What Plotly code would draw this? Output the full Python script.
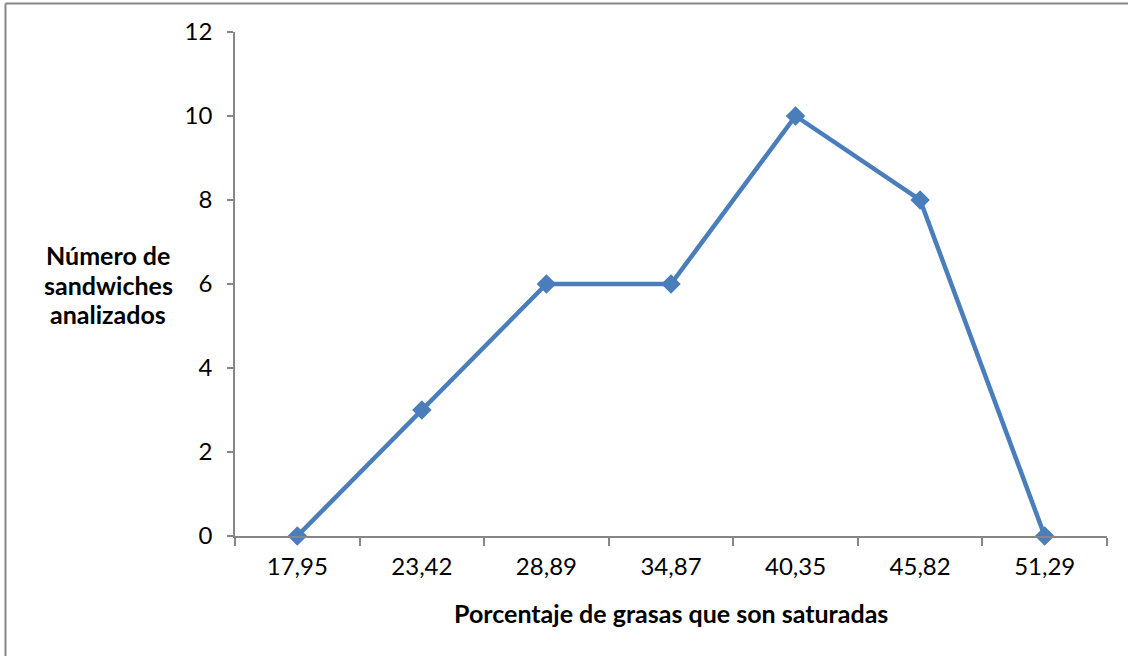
import plotly.graph_objects as go

categories = ["17,95", "23,42", "28,89", "34,87", "40,35", "45,82", "51,29"]
values = [0, 3, 6, 6, 10, 8, 0]
y_ticks = [0, 2, 4, 6, 8, 10, 12]
x_title = "Porcentaje de grasas que son saturadas"
y_title_lines = ["Número de", "sandwiches", "analizados"]

W, H = 1128, 656
L, R, T, B = 235, 21, 32, 120
pw, ph = W - L - R, H - T - B

def px_x(px):
    return (px - L) / pw

def px_y(py):
    return (H - B - py) / ph

FONT = "Lato, Open Sans, sans-serif"
AXIS_COLOR = "#868686"
LINE_COLOR = "#4A7EBB"

fig = go.Figure()
fig.add_trace(go.Scatter(
    x=categories, y=values, mode="lines+markers",
    line=dict(color=LINE_COLOR, width=4.5),
    marker=dict(symbol="diamond", size=15, color=LINE_COLOR),
    showlegend=False, cliponaxis=False,
))

annotations = [
    dict(text=f"<b>{x_title}</b>", xref="paper", yref="paper",
         x=px_x(671), y=px_y(613), xanchor="center", yanchor="middle",
         showarrow=False, font=dict(family=FONT, size=25)),
]
for i, line in enumerate(y_title_lines):
    annotations.append(dict(
        text=f"<b>{line}</b>", xref="paper", yref="paper",
        x=px_x(108), y=px_y(255 + 29.5 * i), xanchor="center", yanchor="middle",
        showarrow=False, font=dict(family=FONT, size=25)))

border = dict(color="#868686", width=2)
shapes = [
    dict(type="line", xref="paper", yref="paper",
         x0=px_x(5.5), x1=px_x(5.5), y0=px_y(670), y1=px_y(3.5), line=border),
    dict(type="line", xref="paper", yref="paper",
         x0=px_x(5.5), x1=px_x(1128), y0=px_y(3.5), y1=px_y(3.5), line=border),
]

fig.update_layout(
    width=W, height=H,
    margin=dict(l=L, r=R, t=T, b=B),
    paper_bgcolor="white", plot_bgcolor="white",
    font=dict(family=FONT, size=24, color="black"),
    xaxis=dict(
        type="category", range=[-0.5, len(categories) - 0.5],
        tickson="boundaries", ticks="outside", ticklen=8, tickcolor=AXIS_COLOR,
        tickwidth=1.5,
        showline=True, linecolor=AXIS_COLOR, linewidth=1.5,
        showgrid=False, zeroline=False,
        ticklabelstandoff=8,
        tickfont=dict(family=FONT, size=24),
    ),
    yaxis=dict(
        range=[0, 12], tickvals=y_ticks,
        ticks="outside", ticklen=6, tickcolor=AXIS_COLOR, tickwidth=1.5,
        showline=True, linecolor=AXIS_COLOR, linewidth=1.5,
        showgrid=False, zeroline=False,
        ticklabelstandoff=10,
        tickfont=dict(family=FONT, size=24),
    ),
    shapes=shapes,
    annotations=annotations,
)

fig.write_html(
    "out.html",
    config={"displayModeBar": False},
    post_script=(
        "document.body.style.margin='0';"
        "document.body.style.overflow='hidden';"
        "document.documentElement.style.overflow='hidden';"
    ),
)
